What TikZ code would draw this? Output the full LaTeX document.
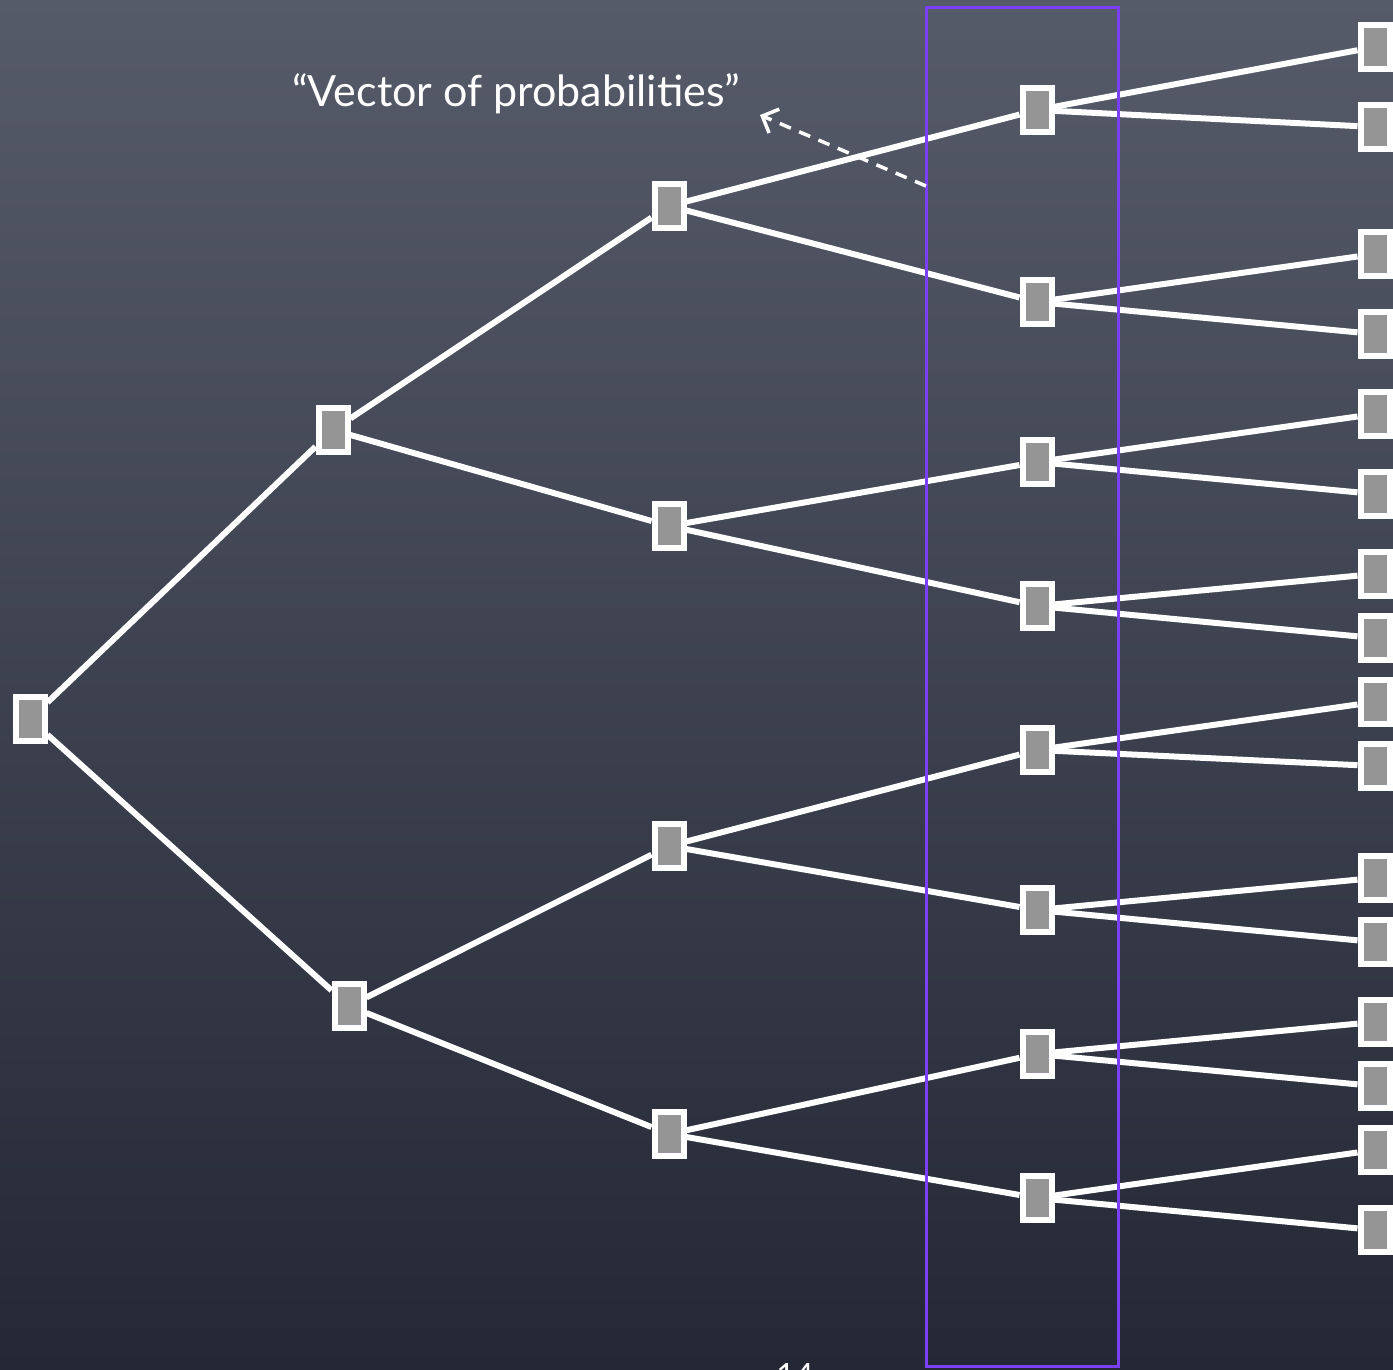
\documentclass[tikz,border=0pt]{standalone}
\usepackage{fontspec}
\setmainfont{Lato}
\usetikzlibrary{arrows.meta, positioning}
\definecolor{boardtop}{HTML}{565B6A}
\definecolor{boardmid}{HTML}{3E4352}
\definecolor{boardbot}{HTML}{242835}
\definecolor{boxgray}{HTML}{959595}
\definecolor{selpurple}{HTML}{7B3FF5}
\tikzset{
  state/.style={draw=white, fill=boxgray, line width=6pt, minimum width=29pt, minimum height=44pt, inner sep=0pt},
  branch/.style={draw=white, line width=6pt},
}

\begin{document}
\begin{tikzpicture}[x=1pt, y=-1pt]
  % chalkboard background
  \shade[top color=boardtop, middle color=boardmid, bottom color=boardbot] (0,0) rectangle (1393,1369);
  \useasboundingbox (0,0) rectangle (1393,1369);
  % tree nodes, level by level
  \foreach \name/\x/\y in {n0/30/719, n1/333/430, n2/349/1006,
      n11/669/206, n12/669/526, n21/669/846, n22/669/1134,
      n111/1037/110, n112/1037/302, n121/1037/462, n122/1037/606,
      n211/1037/750, n212/1037/910, n221/1037/1054, n222/1037/1198}
    \node[state] (\name) at (\x,\y) {};
  % leaves
  \foreach \name/\y in {n1111/47, n1112/127, n1121/254, n1122/334,
      n1211/414, n1212/494, n1221/574, n1222/638,
      n2111/702, n2112/766, n2121/878, n2122/942,
      n2211/1022, n2212/1086, n2221/1150, n2222/1230}
    \node[state] (\name) at (1375,\y) {};
  % branches
  \foreach \a/\b in {n0/n1, n0/n2, n1/n11, n1/n12, n2/n21, n2/n22,
      n11/n111, n11/n112, n12/n121, n12/n122, n21/n211, n21/n212, n22/n221, n22/n222}
    \draw[branch] (\a) -- (\b);
  \foreach \p in {111, 112, 121, 122, 211, 212, 221, 222} {
    \draw[branch] (n\p) -- (n\p1);
    \draw[branch] (n\p) -- (n\p2);
  }
  % selected layer
  \draw[selpurple, line width=3pt] (926,7) rectangle (1118,1366);
  % label and pointer
  \node[anchor=base west, text=white, inner sep=0pt, font=\fontsize{43}{48}\selectfont] (veclabel) at (292,106) {“Vector of probabilities”};
  \coordinate (layeredge) at (926,186);
  \coordinate (labeltip) at (760,115);
  \draw[white, line width=3.5pt, dash pattern=on 12pt off 9pt, -{Straight Barb[length=13pt, width=26pt]}] (layeredge) -- (labeltip);
  % slide number (cut off)
  \node[anchor=base, text=white, font=\fontsize{32}{36}\selectfont] (pagenum) at (795,1386) {14};
\end{tikzpicture}
\end{document}
